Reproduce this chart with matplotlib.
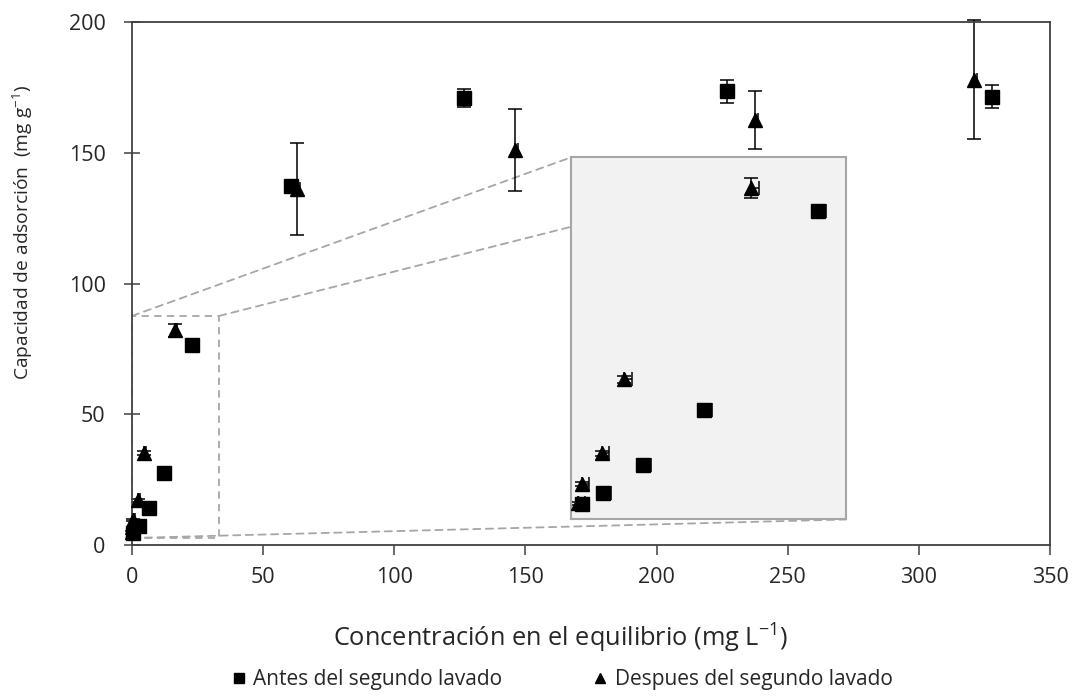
import matplotlib
matplotlib.use('Agg')
import matplotlib.pyplot as plt
from matplotlib.lines import Line2D
from matplotlib.patches import Rectangle, ConnectionPatch

plt.rcParams['font.family'] = ['Open Sans', 'DejaVu Sans']
TXT = '#262626'
SPINE = '#404040'
DASH = '#a6a6a6'

# datos (mg L-1 , mg g-1)
antes_x = [0.5, 2.5, 6.3, 12.0, 22.8, 60.6, 126.7, 226.7, 327.7]
antes_y = [4.6, 7.4, 14.1, 27.6, 76.6, 137.3, 171.0, 173.5, 171.5]
antes_yerr = [0.4, 0.5, 0.6, 0.8, 1.0, 1.0, 3.5, 4.5, 4.3]
antes_xerr = [0.7, 0.7, 0.7, 0.8, 0.7, 1.0, 1.0, 1.0, 1.5]

despues_x = [0.1, 0.5, 2.4, 4.45, 16.5, 62.9, 146.0, 237.5, 321.0]
despues_y = [4.8, 9.5, 17.1, 35.2, 82.2, 136.1, 151.0, 162.5, 178.0]
despues_yerr = [0.4, 0.5, 0.6, 0.8, 2.5, 17.7, 15.8, 11.0, 22.8]
despues_xerr = [0.7, 0.7, 0.7, 0.8, 0.7, 1.0, 1.0, 1.0, 1.0]

xticks = [0, 50, 100, 150, 200, 250, 300, 350]
yticks = [0, 50, 100, 150, 200]

# zona ampliada
box = (0, 2.7, 33.2, 87.6)
ins_xlim = (-0.5, 25.4)
ins_ylim = (0.8, 89.8)


def draw(a, clip):
    zx = [0] * len(antes_x)
    a.errorbar(antes_x, antes_y, yerr=antes_yerr, xerr=[zx, antes_xerr], fmt='none',
               ecolor='black', elinewidth=1.1, capsize=5, capthick=1.1, clip_on=clip, zorder=2)
    a.errorbar(despues_x, despues_y, yerr=despues_yerr, xerr=[zx, despues_xerr], fmt='none',
               ecolor='black', elinewidth=1.1, capsize=5, capthick=1.1, clip_on=clip, zorder=2)
    a.plot(antes_x, antes_y, 's', color='black', ms=9.5, clip_on=clip, zorder=3)
    a.plot(despues_x, despues_y, '^', color='black', ms=9.5, clip_on=clip, zorder=3)


fig = plt.figure(figsize=(10.78, 7.0), dpi=100)
ax = fig.add_axes([0.1225, 0.2214, 0.8516, 0.7472])
draw(ax, False)
ax.set_xlim(0, 350)
ax.set_ylim(0, 200)
ax.set_xticks(xticks)
ax.set_yticks(yticks)
for s in ax.spines.values():
    s.set_color(SPINE)
    s.set_linewidth(1.3)
ax.tick_params(axis='x', direction='out', length=7, width=1.1, color=SPINE, pad=9,
               labelsize=15.5, labelcolor=TXT)
ax.tick_params(axis='y', direction='inout', length=12, width=1.1, color=SPINE, pad=13,
               labelsize=15.5, labelcolor=TXT)
ax.set_xlabel(r'Concentración en el equilibrio (mg L$^{\mathregular{-1}}$)', fontsize=18.3, color=TXT)
ax.set_ylabel(r'Capacidad de adsorción  (mg g$^{\mathregular{-1}}$)', fontsize=13.8, color=TXT)
ax.xaxis.set_label_coords(0.467, -0.146)
ax.yaxis.set_label_coords(-0.106, 0.597)

# recuadro de zoom
ax.add_patch(Rectangle((box[0], box[1]), box[2] - box[0], box[3] - box[1], fill=False,
                       edgecolor=DASH, lw=1.3, ls=(0, (4, 3)), zorder=1))

axins = fig.add_axes([0.530, 0.2579, 0.2545, 0.5175])
axins.set_facecolor('#f2f2f2')
draw(axins, True)
axins.set_xlim(*ins_xlim)
axins.set_ylim(*ins_ylim)
axins.set_xticks([])
axins.set_yticks([])
for s in axins.spines.values():
    s.set_color(DASH)
    s.set_linewidth(1.5)

for pa, pb in [((box[0], box[3]), (0, 1)), ((box[2], box[3]), (1, 1)), ((box[0], box[1]), (1, 0))]:
    con = ConnectionPatch(xyA=pa, coordsA=ax.transData, xyB=pb, coordsB=axins.transAxes,
                          color=DASH, lw=1.3, ls=(0, (4, 3)))
    ax.add_artist(con)

handles = [Line2D([], [], marker='s', color='black', ls='none', ms=7.5),
           Line2D([], [], marker='^', color='black', ls='none', ms=7.5)]
fig.legend(handles, ['Antes del segundo lavado', 'Despues del segundo lavado'], loc='center',
           bbox_to_anchor=(0.521, 0.029), ncol=2, frameon=False, fontsize=15,
           handlelength=0.8, handletextpad=0.3, columnspacing=4.3, labelcolor=TXT)

fig.savefig('out.png', dpi=100, facecolor='white')
